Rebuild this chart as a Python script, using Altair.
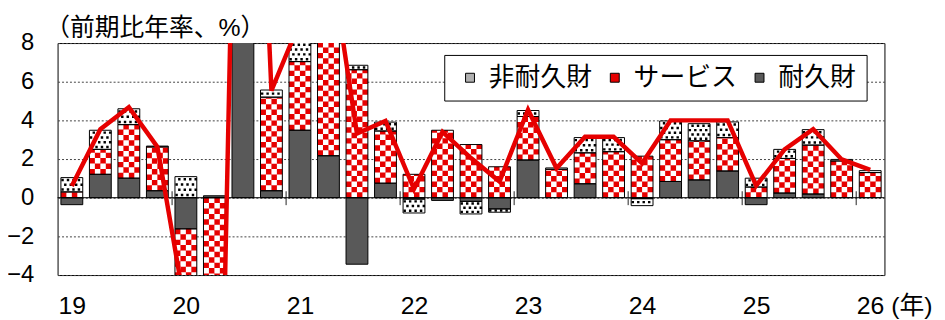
import altair as alt
import pandas as pd
import numpy as np

# ---------------- data ----------------
year_labels = ["19", "20", "21", "22", "23", "24", "25", "26 (年)"]
quarters = list(range(29))          # 2019Q1 ... 2026Q1
comp_names = ["非耐久財", "サービス", "耐久財"]

durable = [-0.36, 1.21, 1.01, 0.36, -1.61, 0.10, 10.5, 0.36,
           3.49, 2.17, -3.44, 0.75, -0.07, -0.14, -0.19, -0.58,
           1.95, 0.0, 0.72, 0.0, -0.05, 0.84, 0.92, 1.38,
           -0.36, 0.24, 0.19, 0.0, 0.0]
services = [0.30, 1.29, 2.77, 2.27, -5.38, -30.1, 21.5, 4.84,
            3.55, 8.5, 6.62, 2.70, 1.21, 3.49, 2.75, 1.60,
            2.25, 1.47, 1.60, 2.38, 2.15, 2.16, 2.02, 1.73,
            0.55, 1.79, 2.53, 1.90, 1.30]
nondurable = [0.74, 0.99, 0.82, 0.04, 1.09, 0.0, 7.0, 0.37,
              2.0, 2.4, 0.23, 0.46, -0.72, 0.0, -0.65, -0.17,
              0.31, 0.07, 0.79, 0.73, -0.36, 0.97, 0.89, 0.81,
              0.46, 0.47, 0.80, 0.08, 0.10]
total = [0.60, 3.54, 4.68, 2.63, -5.9, -30.0, 39.0, 5.54,
         9.1, 13.1, 3.32, 3.97, 0.45, 3.40, 2.05, 0.84,
         4.55, 1.52, 3.15, 3.15, 1.78, 4.0, 4.0, 4.0,
         0.62, 2.50, 3.54, 1.98, 1.44]

# ---------------- styling constants ----------------
FONT = "Liberation Sans, Noto Sans CJK JP"
RED = "#e60000"
DARK = "#595959"
BH = 0.383          # half bar width (in quarter units)
NC = 4              # checker columns per bar
CW = 2 * BH / NC
ROW_H = 0.28        # checker row height (value units)
DOT_H = 0.25        # dot row spacing (value units)
YMIN, YMAX = -4, 8

# ---------------- derived tables ----------------
rows = []
for t in quarters:
    pb = nb = 0.0
    for comp, arr in (("耐久財", durable), ("サービス", services), ("非耐久財", nondurable)):
        v = arr[t]
        if v == 0:
            continue
        if v > 0:
            y0, y1 = pb, pb + v
            pb = y1
        else:
            y0, y1 = nb, nb + v
            nb = y1
        rows.append(dict(t=t, comp=comp, y0=y0, y1=y1, x0=t - BH, x1=t + BH))
seg = pd.DataFrame(rows)

cells = []
for r in seg[seg.comp == "サービス"].itertuples():
    h = abs(r.y1 - r.y0)
    s = 1 if r.y1 > r.y0 else -1
    n = int(np.ceil(h / ROW_H))
    for k in range(n):
        lo, hi = k * ROW_H, min((k + 1) * ROW_H, h)
        a, b = r.y0 + s * lo, r.y0 + s * hi
        if max(a, b) < YMIN - 1 or min(a, b) > YMAX + 1:
            continue
        for c in range(NC):
            if (k + c) % 2 == 1:
                cells.append(dict(cx0=r.x0 + c * CW, cx1=r.x0 + (c + 1) * CW, cy0=a, cy1=b))
cells = pd.DataFrame(cells)

nd = seg[seg.comp == "非耐久財"]
dots = []
for r in nd.itertuples():
    h = abs(r.y1 - r.y0)
    s = 1 if r.y1 > r.y0 else -1
    n = int(round(h / DOT_H))
    for k in range(n):
        yc = r.y0 + s * (k + 0.5) * h / n
        if yc < YMIN or yc > YMAX:
            continue
        shift = 0.3 if k % 2 == 0 else 0.8
        for c in range(NC):
            dots.append(dict(px=r.x0 + (c + shift) * CW, py=yc))
dots = pd.DataFrame(dots)

line_df = pd.DataFrame({"t": quarters, "total": total})
zero_df = pd.DataFrame({"z": [0]})

boundaries = [4 * i - 0.5 for i in range(1, len(year_labels))]
label_values = [4 * i for i in range(len(year_labels))]
labels_js = "[" + ",".join("'" + s + "'" for s in year_labels) + "]"
last_q = label_values[-1]

xs = alt.Scale(domain=[-0.5, len(quarters) - 0.5], nice=False, zero=False)
ys = alt.Scale(domain=[YMIN, YMAX], nice=False, zero=False)

bottom_axis = alt.Axis(
    orient="bottom", values=label_values,
    labelExpr=f"{labels_js}[round(datum.value/4)]",
    labelAlign={"condition": {"test": f"datum.value == {last_q}", "value": "left"}, "value": "center"},
    labelOffset={"condition": {"test": f"datum.value == {last_q}", "value": -14}, "value": 0},
    labelFlush=False, labelOverlap=False, labelBaseline="top",
    labelFontSize=25, labelColor="black", labelPadding=18.5,
    domain=False, ticks=False, grid=False, title=None,
)
top_axis = alt.Axis(
    orient="top", values=boundaries, labels=False, domain=False,
    ticks=True, tickSize=14, tickColor="#222", tickWidth=1,
    grid=False, offset=-163, title=None,
)
y_axis = alt.Axis(
    values=list(range(YMIN, YMAX + 1, 2)), grid=True, gridDash=[2, 2],
    gridColor="#444", gridWidth=1, domain=False, ticks=False,
    labelFontSize=24, labelColor="black", labelPadding=24,
    title="（前期比年率、%）", titleAngle=0, titleX=-13, titleY=-8,
    titleAlign="left", titleBaseline="alphabetic", titleFontSize=25,
    titleFontWeight="normal", titleColor="black",
)

legend = alt.Legend(
    orient="none", legendX=390, legendY=12, direction="horizontal",
    title=None, labelFontSize=26, labelColor="black", labelFont="Noto Sans CJK JP",
    symbolType="square", symbolSize=81, symbolOffset=3, labelOffset=6,
    columnPadding=6, padding=10, strokeColor="black", fillColor="white",
    symbolStrokeColor="black", symbolStrokeWidth=1, labelLimit=300,
)

base = alt.Chart(seg).mark_rect(clip=True).encode(
    x=alt.X("x0:Q", scale=xs, axis=bottom_axis),
    x2="x1:Q",
    y=alt.Y("y0:Q", scale=ys, axis=y_axis),
    y2="y1:Q",
    color=alt.Color("comp:N", scale=alt.Scale(domain=comp_names, range=["#b0b0b0", RED, DARK]),
                    legend=legend),
)

checker = alt.Chart(cells).mark_rect(clip=True, color="white").encode(
    x=alt.X("cx0:Q", scale=xs, axis=None), x2="cx1:Q",
    y=alt.Y("cy0:Q", scale=ys, axis=None), y2="cy1:Q",
)

nd_cover = alt.Chart(nd).mark_rect(clip=True, color="white").encode(
    x=alt.X("x0:Q", scale=xs, axis=None), x2="x1:Q",
    y=alt.Y("y0:Q", scale=ys, axis=None), y2="y1:Q",
)

dot_layer = alt.Chart(dots).mark_square(clip=True, color="black", size=6, opacity=1).encode(
    x=alt.X("px:Q", scale=xs, axis=None),
    y=alt.Y("py:Q", scale=ys, axis=None),
)

outline = alt.Chart(seg).mark_rect(clip=True, fillOpacity=0, stroke="black", strokeWidth=1).encode(
    x=alt.X("x0:Q", scale=xs, axis=None), x2="x1:Q",
    y=alt.Y("y0:Q", scale=ys, axis=None), y2="y1:Q",
)

zero = alt.Chart(zero_df).mark_rule(color="black", strokeWidth=1).encode(
    y=alt.Y("z:Q", scale=ys, axis=None),
)

line = alt.Chart(line_df).mark_line(clip=True, color=RED, strokeWidth=4.5).encode(
    x=alt.X("t:Q", scale=xs, axis=top_axis),
    y=alt.Y("total:Q", scale=ys, axis=None),
)

chart = alt.layer(base, checker, nd_cover, dot_layer, outline, zero, line).resolve_axis(
    x="independent", y="independent"
).properties(
    width=834, height=234,
    autosize=alt.AutoSizeParams(type="none"),
    padding={"left": 50, "top": 34, "right": 53, "bottom": 44},
).configure(
    font=FONT,
).configure_view(
    stroke="black", strokeWidth=1,
).configure_axis(
    labelFont=FONT, titleFont=FONT,
)

chart.save("out.html", embed_options={"renderer": "svg", "actions": False})
